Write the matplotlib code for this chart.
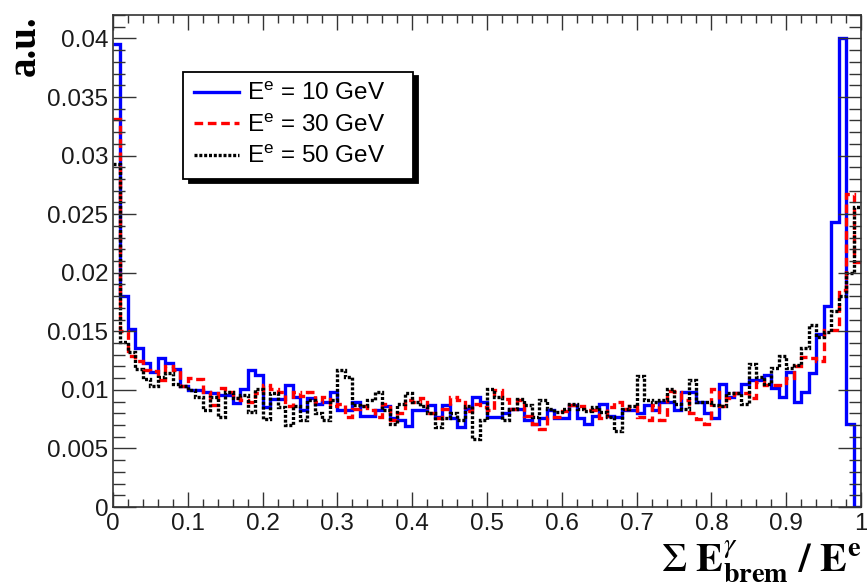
import numpy as np
import matplotlib
matplotlib.use("Agg")
import matplotlib.pyplot as plt
from matplotlib.ticker import FixedLocator, MultipleLocator

plt.rcParams["font.family"] = ["Liberation Sans", "DejaVu Sans"]
plt.rcParams["mathtext.fontset"] = "custom"
plt.rcParams["mathtext.rm"] = "Liberation Sans"
plt.rcParams["mathtext.it"] = "Liberation Sans:italic"
plt.rcParams["mathtext.bf"] = "Liberation Sans:bold"

# Fraction of electron energy radiated as bremsstrahlung, 100 bins in [0, 1]
bin_lo, bin_hi, n_bins = 0.0, 1.0, 100

e10 = [0.0395, 0.0180, 0.0152, 0.0136, 0.0123, 0.0115, 0.0127, 0.0123, 0.0118, 0.0103,
       0.0100, 0.0100, 0.0098, 0.0097, 0.0096, 0.0096, 0.0089, 0.0101, 0.0117, 0.0113,
       0.0085, 0.0092, 0.0092, 0.0104, 0.0094, 0.0083, 0.0093, 0.0088, 0.0090, 0.0098,
       0.0083, 0.0083, 0.0090, 0.0078, 0.0078, 0.0083, 0.0086, 0.0076, 0.0074, 0.0069,
       0.0083, 0.0083, 0.0087, 0.0077, 0.0087, 0.0076, 0.0068, 0.0084, 0.0094, 0.0090,
       0.0077, 0.0077, 0.0080, 0.0084, 0.0084, 0.0074, 0.0071, 0.0076, 0.0083, 0.0076,
       0.0076, 0.0087, 0.0076, 0.0071, 0.0078, 0.0088, 0.0078, 0.0077, 0.0083, 0.0083,
       0.0080, 0.0087, 0.0083, 0.0090, 0.0090, 0.0083, 0.0098, 0.0098, 0.0090, 0.0080,
       0.0076, 0.0105, 0.0094, 0.0097, 0.0105, 0.0108, 0.0108, 0.0113, 0.0102, 0.0094,
       0.0115, 0.0090, 0.0098, 0.0114, 0.0148, 0.0172, 0.0243, 0.0400, 0.0071, 0.0000]

e30 = [0.0331, 0.0150, 0.0129, 0.0125, 0.0117, 0.0116, 0.0108, 0.0120, 0.0117, 0.0103,
       0.0110, 0.0109, 0.0098, 0.0087, 0.0102, 0.0098, 0.0093, 0.0091, 0.0090, 0.0097,
       0.0104, 0.0101, 0.0098, 0.0086, 0.0098, 0.0095, 0.0098, 0.0090, 0.0094, 0.0086,
       0.0088, 0.0077, 0.0084, 0.0086, 0.0083, 0.0077, 0.0088, 0.0074, 0.0080, 0.0091,
       0.0090, 0.0093, 0.0080, 0.0076, 0.0084, 0.0094, 0.0091, 0.0082, 0.0088, 0.0085,
       0.0083, 0.0100, 0.0092, 0.0084, 0.0091, 0.0078, 0.0071, 0.0067, 0.0077, 0.0077,
       0.0082, 0.0087, 0.0086, 0.0083, 0.0083, 0.0076, 0.0085, 0.0090, 0.0084, 0.0086,
       0.0077, 0.0074, 0.0087, 0.0074, 0.0099, 0.0098, 0.0091, 0.0080, 0.0075, 0.0071,
       0.0101, 0.0086, 0.0093, 0.0097, 0.0097, 0.0093, 0.0107, 0.0104, 0.0104, 0.0104,
       0.0110, 0.0120, 0.0128, 0.0127, 0.0125, 0.0151, 0.0151, 0.0185, 0.0267, 0.0209]

e50 = [0.0293, 0.0141, 0.0132, 0.0118, 0.0109, 0.0103, 0.0111, 0.0114, 0.0105, 0.0103,
       0.0100, 0.0094, 0.0083, 0.0094, 0.0077, 0.0098, 0.0093, 0.0096, 0.0081, 0.0101,
       0.0075, 0.0097, 0.0085, 0.0070, 0.0086, 0.0074, 0.0091, 0.0080, 0.0074, 0.0091,
       0.0117, 0.0111, 0.0087, 0.0086, 0.0091, 0.0098, 0.0083, 0.0071, 0.0088, 0.0097,
       0.0090, 0.0086, 0.0080, 0.0068, 0.0076, 0.0080, 0.0074, 0.0086, 0.0058, 0.0074,
       0.0101, 0.0094, 0.0074, 0.0084, 0.0092, 0.0087, 0.0077, 0.0091, 0.0084, 0.0081,
       0.0084, 0.0088, 0.0084, 0.0082, 0.0085, 0.0081, 0.0077, 0.0065, 0.0084, 0.0086,
       0.0112, 0.0091, 0.0090, 0.0091, 0.0101, 0.0088, 0.0084, 0.0108, 0.0090, 0.0090,
       0.0087, 0.0086, 0.0097, 0.0097, 0.0088, 0.0122, 0.0111, 0.0105, 0.0119, 0.0129,
       0.0119, 0.0121, 0.0136, 0.0155, 0.0145, 0.0149, 0.0167, 0.0180, 0.0200, 0.0256]

series_labels = [r"E$^{\mathrm{e}}$ = 10 GeV", r"E$^{\mathrm{e}}$ = 30 GeV", r"E$^{\mathrm{e}}$ = 50 GeV"]

x_ticks = [0.0, 0.1, 0.2, 0.3, 0.4, 0.5, 0.6, 0.7, 0.8, 0.9, 1.0]
x_tick_labels = ["0", "0.1", "0.2", "0.3", "0.4", "0.5", "0.6", "0.7", "0.8", "0.9", "1"]
y_ticks = [0.0, 0.005, 0.01, 0.015, 0.02, 0.025, 0.03, 0.035, 0.04]
y_tick_labels = ["0", "0.005", "0.01", "0.015", "0.02", "0.025", "0.03", "0.035", "0.04"]

edges = np.linspace(bin_lo, bin_hi, n_bins + 1)

fig = plt.figure(figsize=(8.67, 5.88), dpi=100)
ax = fig.add_axes([113 / 867, 1 - 507 / 588, 748 / 867, 492 / 588])

styles = [
    dict(color="#0000ff", linestyle="-"),
    dict(color="#ff0000", linestyle=(0, (2.6, 1.4))),
    dict(color="#000000", linestyle=(0, (0.9, 0.55))),
]
for vals, lab, st in zip([e10, e30, e50], series_labels, styles):
    ax.stairs(vals, edges, baseline=None, linewidth=2.4, label=lab, **st)

ax.set_xlim(bin_lo, bin_hi)
ax.set_ylim(0, 0.042)

ax.xaxis.set_major_locator(FixedLocator(x_ticks))
ax.set_xticklabels(x_tick_labels)
ax.xaxis.set_minor_locator(MultipleLocator(0.02))
ax.yaxis.set_major_locator(FixedLocator(y_ticks))
ax.set_yticklabels(y_tick_labels)
ax.yaxis.set_minor_locator(MultipleLocator(0.001))

frame_col = "#333333"
for sp in ax.spines.values():
    sp.set_color(frame_col)
    sp.set_linewidth(1.2)

ax.tick_params(which="both", direction="in", top=True, right=True,
               colors=frame_col, labelcolor="#1a1a1a", labelsize=17.5, width=1.0)
ax.tick_params(axis="x", which="major", length=10.5, pad=4)
ax.tick_params(axis="x", which="minor", length=5.5)
ax.tick_params(axis="y", which="major", length=16.5, pad=3.5)
ax.tick_params(axis="y", which="minor", length=8.5)

ax.set_ylabel("a.u.", loc="top", fontsize=28, fontweight="bold",
              family="Liberation Serif", labelpad=2)
ax.set_xlabel(r"$\Sigma\ \mathbf{E}^{\gamma}_{\mathbf{brem}}\ \mathbf{/}\ \mathbf{E}^{\mathbf{e}}$",
              loc="right", fontsize=29, math_fontfamily="stix", labelpad=3)

leg = ax.legend(loc="upper left", bbox_to_anchor=(0.0936, 0.661, 0.307, 0.223),
                mode="expand", frameon=True, fancybox=False, framealpha=1,
                edgecolor="black", fontsize=17.5, handlelength=1.85,
                handletextpad=0.35, labelspacing=0.38, borderpad=0.45,
                borderaxespad=0.0,
                shadow={"ox": 4, "oy": -3, "color": "black", "alpha": 1})
leg.get_frame().set_linewidth(1.3)

fig.savefig("out.png", dpi=100)
